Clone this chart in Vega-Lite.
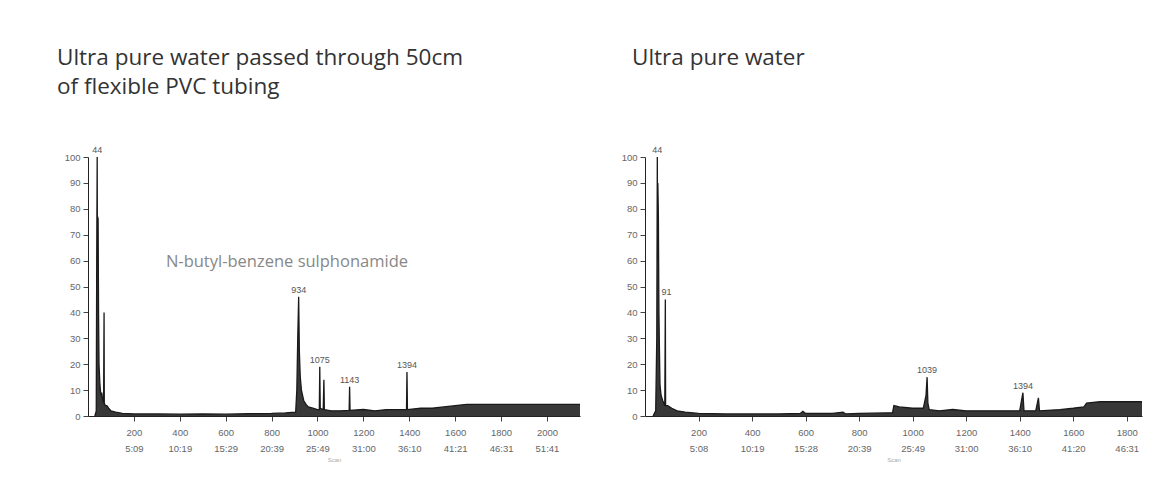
{
  "$schema": "https://vega.github.io/schema/vega-lite/v6.json",
  "background": "white",
  "padding": {"left": 57, "top": 46, "right": 5, "bottom": 5},
  "spacing": 38,
  "config": {
    "view": {"stroke": null},
    "font": "Liberation Sans",
    "title": {"font": "Open Sans", "fontSize": 22.5, "fontWeight": "normal", "color": "#333333", "anchor": "start", "frame": "group", "lineHeight": 29, "offset": 48},
    "axis": {"grid": false, "domainColor": "#222222", "tickColor": "#444444", "labelColor": "#666666", "labelFontSize": 9.5, "titleColor": "#aaaaaa", "titleFontSize": 6, "titleFontWeight": "normal"}
  },
  "datasets": {
    "left": [
      {"scan": 30, "abundance": 0}, {"scan": 36, "abundance": 2}, {"scan": 38, "abundance": 60}, {"scan": 40, "abundance": 100},
      {"scan": 41, "abundance": 60}, {"scan": 42, "abundance": 77}, {"scan": 44, "abundance": 76}, {"scan": 46, "abundance": 40},
      {"scan": 48, "abundance": 20}, {"scan": 52, "abundance": 12}, {"scan": 56, "abundance": 8}, {"scan": 60, "abundance": 9},
      {"scan": 64, "abundance": 6}, {"scan": 68, "abundance": 5}, {"scan": 70, "abundance": 40}, {"scan": 71, "abundance": 5},
      {"scan": 76, "abundance": 4}, {"scan": 82, "abundance": 4}, {"scan": 90, "abundance": 3}, {"scan": 100, "abundance": 2},
      {"scan": 120, "abundance": 1.5}, {"scan": 150, "abundance": 1}, {"scan": 200, "abundance": 0.8}, {"scan": 300, "abundance": 0.8},
      {"scan": 400, "abundance": 0.7}, {"scan": 500, "abundance": 0.8}, {"scan": 600, "abundance": 0.7}, {"scan": 700, "abundance": 0.9},
      {"scan": 800, "abundance": 1}, {"scan": 860, "abundance": 1.2}, {"scan": 905, "abundance": 1.5}, {"scan": 910, "abundance": 10},
      {"scan": 914, "abundance": 30}, {"scan": 918, "abundance": 46}, {"scan": 921, "abundance": 25}, {"scan": 925, "abundance": 15},
      {"scan": 930, "abundance": 10}, {"scan": 940, "abundance": 6}, {"scan": 950, "abundance": 4.5}, {"scan": 960, "abundance": 3.5},
      {"scan": 980, "abundance": 3}, {"scan": 1000, "abundance": 2.5}, {"scan": 1008, "abundance": 2.5}, {"scan": 1010, "abundance": 19},
      {"scan": 1012, "abundance": 3}, {"scan": 1025, "abundance": 2.5}, {"scan": 1028, "abundance": 14}, {"scan": 1030, "abundance": 2.5},
      {"scan": 1060, "abundance": 2}, {"scan": 1100, "abundance": 2}, {"scan": 1138, "abundance": 2.2}, {"scan": 1140, "abundance": 11.3},
      {"scan": 1142, "abundance": 2.2}, {"scan": 1200, "abundance": 2.5}, {"scan": 1250, "abundance": 2}, {"scan": 1300, "abundance": 2.5},
      {"scan": 1350, "abundance": 2.5}, {"scan": 1388, "abundance": 2.5}, {"scan": 1390, "abundance": 17}, {"scan": 1392, "abundance": 2.5},
      {"scan": 1450, "abundance": 3}, {"scan": 1500, "abundance": 3}, {"scan": 1550, "abundance": 3.5}, {"scan": 1600, "abundance": 4},
      {"scan": 1650, "abundance": 4.5}, {"scan": 1700, "abundance": 4.5}, {"scan": 1800, "abundance": 4.5}, {"scan": 1900, "abundance": 4.5},
      {"scan": 2000, "abundance": 4.5}, {"scan": 2100, "abundance": 4.5}, {"scan": 2144, "abundance": 4.5}
    ],
    "right": [
      {"scan": 30, "abundance": 0}, {"scan": 40, "abundance": 2}, {"scan": 44, "abundance": 30}, {"scan": 46, "abundance": 100},
      {"scan": 47, "abundance": 60}, {"scan": 48, "abundance": 90}, {"scan": 50, "abundance": 77}, {"scan": 52, "abundance": 40},
      {"scan": 54, "abundance": 25}, {"scan": 56, "abundance": 12}, {"scan": 60, "abundance": 8}, {"scan": 66, "abundance": 6},
      {"scan": 70, "abundance": 5}, {"scan": 74, "abundance": 4}, {"scan": 76, "abundance": 45}, {"scan": 77, "abundance": 4},
      {"scan": 85, "abundance": 4}, {"scan": 100, "abundance": 3}, {"scan": 120, "abundance": 2}, {"scan": 150, "abundance": 1.5},
      {"scan": 200, "abundance": 1}, {"scan": 300, "abundance": 0.8}, {"scan": 400, "abundance": 0.8}, {"scan": 500, "abundance": 0.8},
      {"scan": 580, "abundance": 1}, {"scan": 590, "abundance": 1.8}, {"scan": 600, "abundance": 1}, {"scan": 700, "abundance": 1},
      {"scan": 740, "abundance": 1.5}, {"scan": 750, "abundance": 0.8}, {"scan": 800, "abundance": 1}, {"scan": 900, "abundance": 1.2},
      {"scan": 925, "abundance": 1.3}, {"scan": 930, "abundance": 4}, {"scan": 950, "abundance": 3.5}, {"scan": 1000, "abundance": 3},
      {"scan": 1040, "abundance": 3}, {"scan": 1050, "abundance": 8}, {"scan": 1054, "abundance": 15}, {"scan": 1057, "abundance": 5},
      {"scan": 1062, "abundance": 2.5}, {"scan": 1100, "abundance": 2}, {"scan": 1150, "abundance": 2.5}, {"scan": 1200, "abundance": 2},
      {"scan": 1300, "abundance": 2}, {"scan": 1400, "abundance": 2}, {"scan": 1412, "abundance": 9}, {"scan": 1416, "abundance": 2},
      {"scan": 1460, "abundance": 2}, {"scan": 1470, "abundance": 7}, {"scan": 1474, "abundance": 2}, {"scan": 1550, "abundance": 2.5},
      {"scan": 1600, "abundance": 3}, {"scan": 1640, "abundance": 3.5}, {"scan": 1650, "abundance": 5}, {"scan": 1700, "abundance": 5.5},
      {"scan": 1800, "abundance": 5.5}, {"scan": 1857, "abundance": 5.5}
    ],
    "leftLabels": [
      {"scan": 40, "abundance": 100, "label": "44"},
      {"scan": 918, "abundance": 46, "label": "934"},
      {"scan": 1010, "abundance": 19, "label": "1075"},
      {"scan": 1140, "abundance": 11.3, "label": "1143"},
      {"scan": 1390, "abundance": 17, "label": "1394"}
    ],
    "rightLabels": [
      {"scan": 46, "abundance": 100, "label": "44"},
      {"scan": 80, "abundance": 45, "label": "91"},
      {"scan": 1054, "abundance": 15, "label": "1039"},
      {"scan": 1412, "abundance": 9, "label": "1394"}
    ],
    "compound": [
      {"scan": 867, "abundance": 59.5, "label": "N-butyl-benzene sulphonamide"}
    ]
  },
  "hconcat": [
    {
      "width": 492,
      "height": 259,
      "title": {"text": ["Ultra pure water passed through 50cm", "of flexible PVC tubing"], "dx": -31},
      "encoding": {
        "x": {"field": "scan", "type": "quantitative", "scale": {"domain": [0, 2144], "nice": false},
          "axis": {"values": [200, 400, 600, 800, 1000, 1200, 1400, 1600, 1800, 2000], "format": "d", "title": "Scan", "labelPadding": 6, "labelLineHeight": 16, "labelOverlap": false,
            "labelExpr": "[datum.label, {'200':'5:09','400':'10:19','600':'15:29','800':'20:39','1000':'25:49','1200':'31:00','1400':'36:10','1600':'41:21','1800':'46:31','2000':'51:41'}[datum.label]]"}},
        "y": {"field": "abundance", "type": "quantitative", "scale": {"domain": [0, 100], "nice": false},
          "axis": {"values": [0, 10, 20, 30, 40, 50, 60, 70, 80, 90, 100], "title": null, "labelPadding": 3, "labelOverlap": false}}
      },
      "layer": [
        {"data": {"name": "left"}, "mark": {"type": "area", "color": "#222222", "opacity": 0.9}},
        {"data": {"name": "left"}, "mark": {"type": "line", "color": "#1a1a1a", "strokeWidth": 1.3}},
        {
          "data": {"name": "leftLabels"},
          "mark": {"type": "text", "fontSize": 9, "color": "#555555", "dy": -7},
          "encoding": {"text": {"field": "label"}}
        },
        {
          "data": {"name": "compound"},
          "mark": {"type": "text", "fontSize": 16.5, "color": "#888888", "font": "Open Sans"},
          "encoding": {"text": {"field": "label"}}
        }
      ]
    },
    {
      "width": 497,
      "height": 259,
      "title": {"text": ["Ultra pure water", " "], "dx": -13},
      "encoding": {
        "x": {"field": "scan", "type": "quantitative", "scale": {"domain": [0, 1857], "nice": false},
          "axis": {"values": [200, 400, 600, 800, 1000, 1200, 1400, 1600, 1800], "format": "d", "title": "Scan", "labelPadding": 6, "labelLineHeight": 16, "labelOverlap": false,
            "labelExpr": "[datum.label, {'200':'5:08','400':'10:19','600':'15:28','800':'20:39','1000':'25:49','1200':'31:00','1400':'36:10','1600':'41:20','1800':'46:31'}[datum.label]]"}},
        "y": {"field": "abundance", "type": "quantitative", "scale": {"domain": [0, 100], "nice": false},
          "axis": {"values": [0, 10, 20, 30, 40, 50, 60, 70, 80, 90, 100], "title": null, "labelPadding": 3, "labelOverlap": false}}
      },
      "layer": [
        {"data": {"name": "right"}, "mark": {"type": "area", "color": "#222222", "opacity": 0.9}},
        {"data": {"name": "right"}, "mark": {"type": "line", "color": "#1a1a1a", "strokeWidth": 1.3}},
        {
          "data": {"name": "rightLabels"},
          "mark": {"type": "text", "fontSize": 9, "color": "#555555", "dy": -7},
          "encoding": {"text": {"field": "label"}}
        }
      ]
    }
  ]
}
